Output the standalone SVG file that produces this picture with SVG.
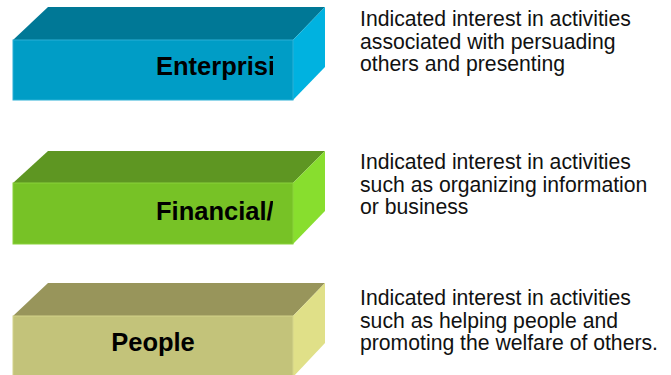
<svg xmlns="http://www.w3.org/2000/svg" width="671" height="375" viewBox="0 0 671 375">
<style>
.title{font-family:"Liberation Sans",Arial,sans-serif;font-size:25.5px;font-weight:bold;fill:#000}
.desc{font-family:"Liberation Sans",Arial,sans-serif;font-size:21.2px;fill:#111}
.edge{stroke-width:1}
</style>
<defs>
<clipPath id="clipT1"><rect x="13" y="40" width="260" height="60"/></clipPath>
<clipPath id="clipT2"><rect x="13" y="183" width="260" height="61"/></clipPath>
</defs>
<rect width="671" height="375" fill="#fff"/>
<g id="node-enterprising">
<polygon points="13,40 48,7 325,7 293,40" fill="#007896"/>
<polygon points="293,40 325,7 325,67 293,100" fill="#00B2E0"/>
<rect x="13" y="40" width="280" height="60" fill="#009DC6" stroke="#2AB0D6" class="edge"/>
<text class="title" x="156" y="75" clip-path="url(#clipT1)">Enterprising</text>
</g>
<g id="node-financial">
<polygon points="13,183 48,151 325,151 293,183" fill="#5E9622"/>
<polygon points="293,183 325,151 325,211 293,244" fill="#88DE2E"/>
<rect x="13" y="183" width="280" height="61" fill="#77C226" stroke="#8AD23A" class="edge"/>
<text class="title" x="156" y="220" clip-path="url(#clipT2)">Financial/</text>
</g>
<g id="node-people">
<polygon points="13,316 48,283 325,283 293,316" fill="#98955B"/>
<polygon points="293,316 325,283 325,343 293,377" fill="#E0E088"/>
<rect x="13" y="316" width="280" height="62" fill="#C3C37A" stroke="#D4D48A" class="edge"/>
<text class="title" x="153" y="351" text-anchor="middle">People</text>
</g>
<g id="desc-enterprising">
<text class="desc" x="360" y="26">Indicated interest in activities</text>
<text class="desc" x="360" y="48.5">associated with persuading</text>
<text class="desc" x="360" y="71">others and presenting</text>
</g>
<g id="desc-financial">
<text class="desc" x="360" y="169">Indicated interest in activities</text>
<text class="desc" x="360" y="191.5">such as organizing information</text>
<text class="desc" x="360" y="214">or business</text>
</g>
<g id="desc-people">
<text class="desc" x="360" y="305">Indicated interest in activities</text>
<text class="desc" x="360" y="327.5">such as helping people and</text>
<text class="desc" x="360" y="350">promoting the welfare of others.</text>
</g>
<g id="connectors"/>
</svg>
